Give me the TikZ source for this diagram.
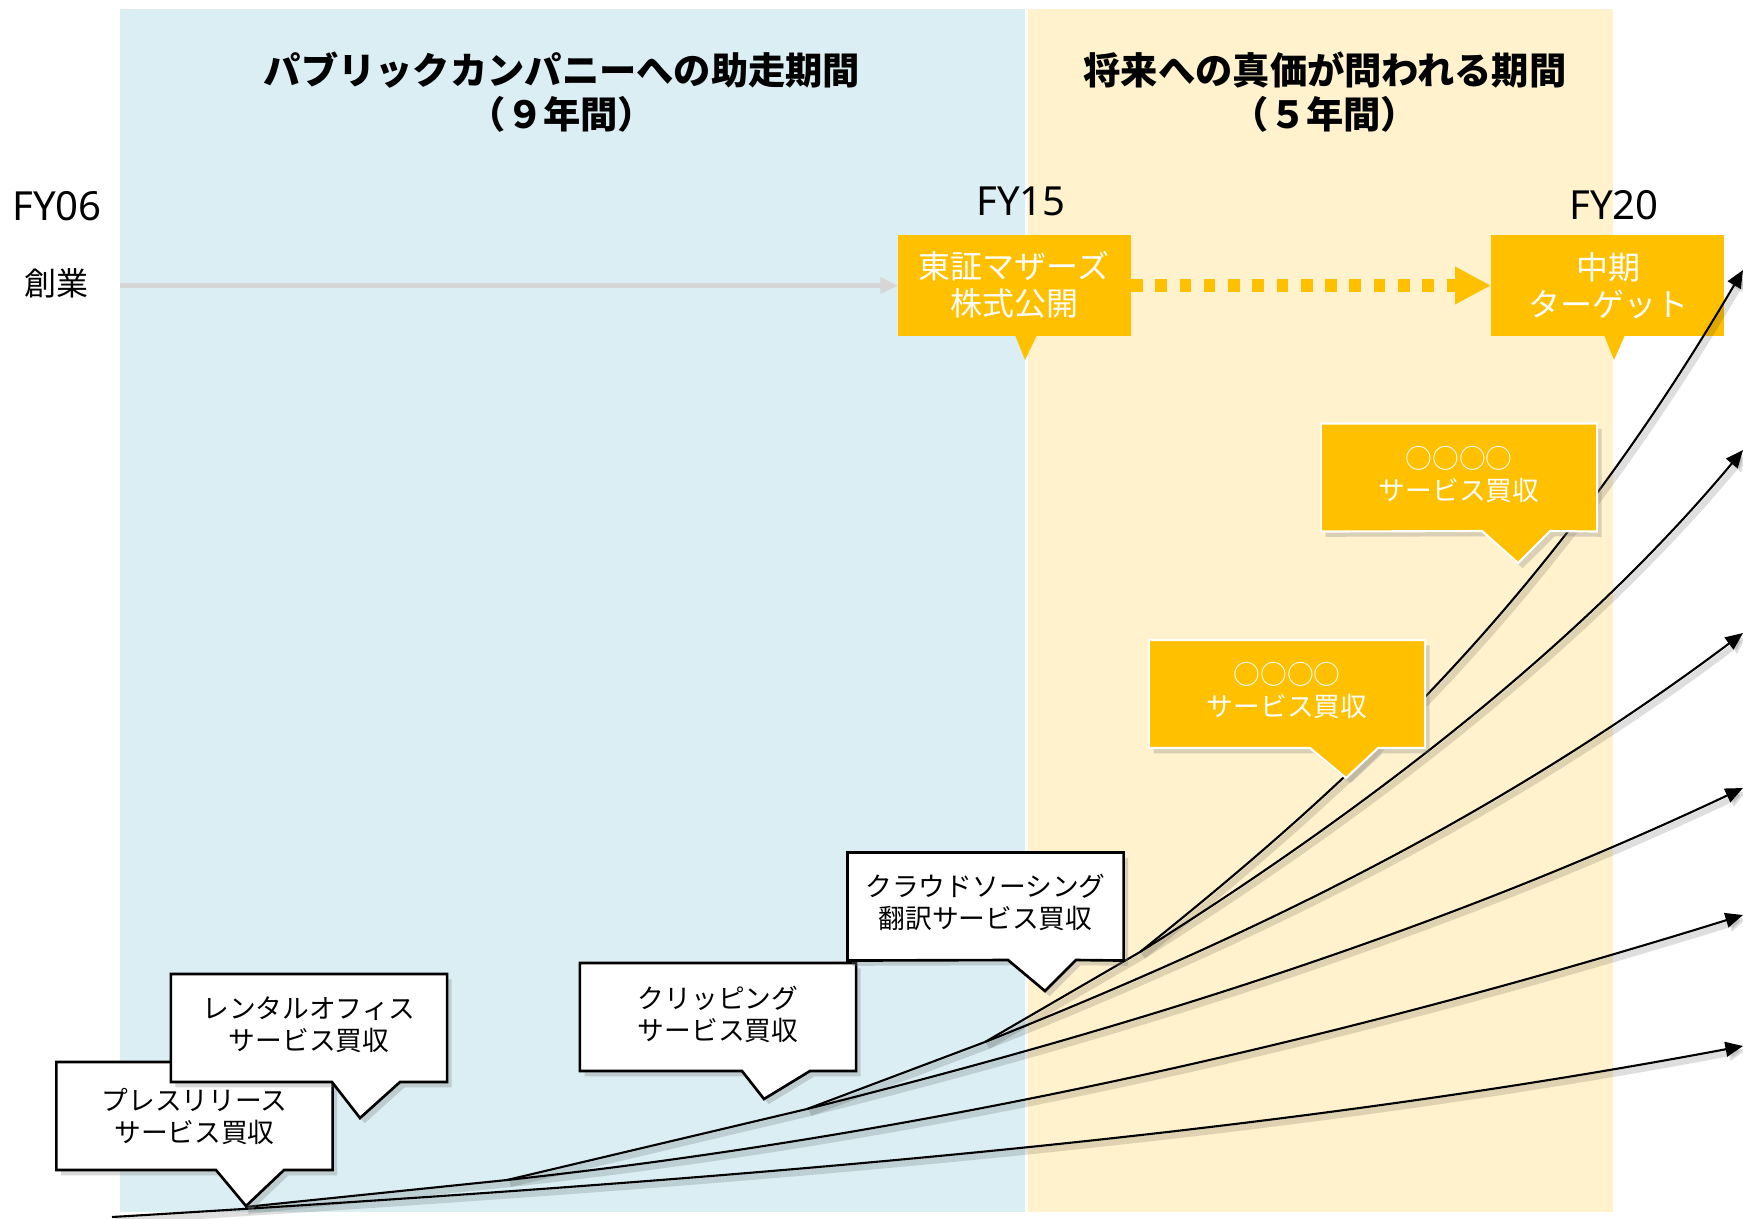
\documentclass[tikz,border=0pt]{standalone}
\usepackage{fontspec}
\setmainfont{Noto Sans CJK JP}
\newfontfamily\latinfont{Noto Sans}
\usetikzlibrary{arrows.meta,shadows,calc}
\definecolor{bgblue}{RGB}{218,238,243}
\definecolor{bgyellow}{RGB}{255,242,204}
\definecolor{accent}{RGB}{255,192,0}
\definecolor{arrowgray}{RGB}{214,214,214}
\begin{document}
\begin{tikzpicture}[x=0.01cm, y=-0.01cm,
  titletext/.style={font=\fontsize{10.6pt}{12.5pt}\selectfont\bfseries, align=center, inner sep=0},
  fylabel/.style={font=\latinfont\fontsize{11.4pt}{13pt}\selectfont, inner sep=0},
  boxtext/.style={font=\fontsize{7.6pt}{9.1pt}\selectfont, align=center, inner sep=0},
  bigtext/.style={font=\fontsize{9.1pt}{10.5pt}\selectfont, align=center, inner sep=0},
  topbox/.style={fill=accent, inner sep=0, outer sep=0, minimum width=2.33cm, minimum height=1.01cm},
  geom/.style={inner sep=0, outer sep=0, minimum width=2.76cm, minimum height=1.08cm},
  whitecall/.style={fill=white, draw=black, line width=0.75pt, line join=miter,
    drop shadow={shadow xshift=1.3pt, shadow yshift=-1.5pt, opacity=0.3}},
  yellowcall/.style={fill=accent, draw=white, line width=0.6pt, line join=miter,
    drop shadow={shadow xshift=1.3pt, shadow yshift=-1.5pt, opacity=0.3}},
  curve/.style={draw=black, line width=0.6pt,
    preaction={draw=black, opacity=0.13, line width=1.8pt, transform canvas={xshift=0.9pt, yshift=-1.1pt}}},
  curvearrow/.style={curve, -{Triangle[length=5pt,width=4.2pt]}}
]
\useasboundingbox (0,0) rectangle (1743,1218);

% backgrounds
\fill[bgblue] (120,9) rectangle (1025,1212);
\fill[bgyellow] (1028,9) rectangle (1613,1212);

% titles
\node[titletext] (title1) at (562,92) {パブリックカンパニーへの助走期間\\（９年間）};
\node[titletext] (title2) at (1325,92) {将来への真価が問われる期間\\（５年間）};

% FY labels
\node[fylabel] (fy06) at (57,206) {FY06};
\node[fylabel] (fy15) at (1021,201) {FY15};
\node[fylabel] (fy20) at (1614,205) {FY20};
\node[bigtext] (sogyo) at (57,283) {創業};

% top boxes
\node[topbox] (tosho) at (1014.5,285.5) {};
\fill[accent] (1015,335) -- (1025,360) -- (1037,335) -- cycle;
\node[bigtext, text=white] (toshot) at (1014,285) {東証マザーズ\\株式公開};
\node[topbox] (chuki) at (1607.5,285.5) {};
\fill[accent] (1604,335) -- (1614,360) -- (1625,335) -- cycle;
\node[bigtext, text=white] (chukit) at (1608,286) {中期\\ターゲット};

% gray arrow
\coordinate (gstart) at (120,285.5);
\draw[arrowgray, line width=1.4pt, -{Triangle[length=5pt,width=4.4pt]}] (gstart) -- (tosho.west);

% dotted arrow
\draw[accent, line width=3.5pt, dash pattern=on 3.3pt off 3.6pt,
  -{Triangle[length=10.2pt,width=10pt]}] (tosho.east) -- (chuki.west);

% growth curves
\coordinate (S) at (112,1217);
\coordinate (B1) at (245,1207);
\coordinate (B2) at (507,1180);
\coordinate (B3) at (807,1109);
\coordinate (B4) at (985,1042);
\coordinate (B5) at (1140,952);
\coordinate (E1) at (1743,270);
\coordinate (E2) at (1743,450);
\coordinate (E3) at (1743,633);
\coordinate (E4) at (1743,788);
\coordinate (E5) at (1743,915);
\coordinate (E6) at (1743,1046);

\draw[curvearrow] (S) .. controls (712,1181) and (1243,1140) .. (E6);
\draw[curve] (B1) -- (B2);
\draw[curvearrow] (B2) .. controls (919,1135) and (1331,1043) .. (E5);
\draw[curve] (B2) -- (B3);
\draw[curvearrow] (B3) .. controls (1119,1031) and (1431,935) .. (E4);
\draw[curve] (B3) -- (B4);
\draw[curvearrow] (B4) .. controls (1238,941) and (1490,823) .. (E3);
\draw[curve] (B4) -- (B5);
\draw[curvearrow] (B5) .. controls (1390,795) and (1593,630) .. (E2);
\draw[curvearrow] (B5) .. controls (1341,791) and (1542,612) .. (E1);

% white callouts
\node[geom] (press) at (194.5,1116) {};
\draw[whitecall] (press.north west) -- (press.north east) -- (press.south east)
  -- (284,1170) -- (246,1206) -- (216,1170) -- (press.south west) -- cycle;
\node[boxtext] (presst) at (press.center) {プレスリリース\\サービス買収};

\node[geom] (rental) at (309,1028) {};
\draw[whitecall] (rental.north west) -- (rental.north east) -- (rental.south east)
  -- (400,1082) -- (360,1118) -- (332,1082) -- (rental.south west) -- cycle;
\node[boxtext] (rentalt) at ($(rental.center)+(0,-3)$) {レンタルオフィス\\サービス買収};

\node[geom] (clip) at (718,1017) {};
\draw[whitecall] (clip.north west) -- (clip.north east) -- (clip.south east)
  -- (810,1071) -- (764,1099) -- (742,1071) -- (clip.south west) -- cycle;
\node[boxtext] (clipt) at ($(clip.center)+(0,-3)$) {クリッピング\\サービス買収};

\node[geom] (crowd) at (985.5,906.5) {};
\draw[whitecall] (crowd.north west) -- (crowd.north east) -- (crowd.south east)
  -- (1076,960) -- (1045,991) -- (1008,960) -- (crowd.south west) -- cycle;
\node[boxtext] (crowdt) at ($(crowd.center)+(0,-4)$) {クラウドソーシング\\翻訳サービス買収};

% yellow callouts
\node[geom] (acqa) at (1287,694) {};
\draw[yellowcall] (acqa.north west) -- (acqa.north east) -- (acqa.south east)
  -- (1378,748) -- (1346,778) -- (1310,748) -- (acqa.south west) -- cycle;
\node[boxtext, text=white] (acqat) at ($(acqa.center)+(0,-3)$) {○○○○\\サービス買収};

\node[geom] (acqb) at (1459,477.5) {};
\draw[yellowcall] (acqb.north west) -- (acqb.north east) -- (acqb.south east)
  -- (1550,531) -- (1518,563) -- (1482,531) -- (acqb.south west) -- cycle;
\node[boxtext, text=white] (acqbt) at ($(acqb.center)+(0,-3)$) {○○○○\\サービス買収};

\end{tikzpicture}
\end{document}
